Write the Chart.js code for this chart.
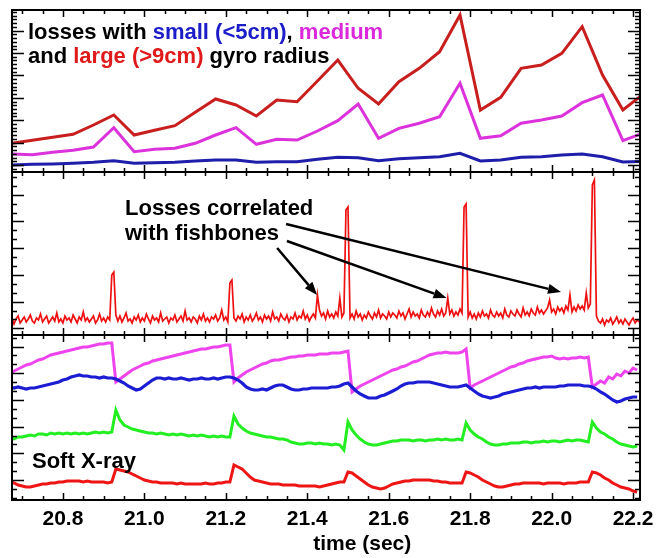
<!DOCTYPE html>
<html><head><meta charset="utf-8">
<script src="https://cdn.jsdelivr.net/npm/chart.js@4.4.1/dist/chart.umd.min.js"></script>
<style>
html,body{margin:0;padding:0;background:#fff;}
#wrap{position:relative;width:656px;height:558px;background:#fff;overflow:hidden;}
.p{position:absolute;left:0;width:656px;}
</style></head><body>
<div id="wrap">
<div class="p" style="top:0;height:180px"><canvas id="c1"></canvas></div>
<div class="p" style="top:164px;height:180px"><canvas id="c2"></canvas></div>
<div class="p" style="top:327px;height:231px"><canvas id="c3"></canvas></div>
</div>
<script>
// ---------- shared x axis ----------
const X_MIN = 20.675, X_MAX = 22.217;
const xTickValues = [20.8, 21.0, 21.2, 21.4, 21.6, 21.8, 22.0, 22.2];
const xTickLabels = ['20.8', '21.0', '21.2', '21.4', '21.6', '21.8', '22.0', '22.2'];
const xAxisTitle = 'time (sec)';

// ---------- panel 1: losses by gyro radius ----------
const time1 = [20.675,20.725,20.775,20.825,20.875,20.925,20.975,21.025,21.075,21.125,21.175,21.225,21.275,21.325,21.375,21.425,
               21.475,21.525,21.575,21.625,21.675,21.725,21.775,21.825,21.875,21.925,21.975,22.025,22.075,22.125,22.175,22.225];
const lossLarge  = [28.7,31.7,34.7,37.7,47,57,37,41.7,46.3,59.7,73,67,56,72,70.3,91,112,83.7,68,90.3,103.7,120.3,157,62,74.7,103.7,107,118.7,145.3,97,62,78];
const lossMedium = [18,17.3,19.7,21.7,25,44.3,20.3,22.7,23.7,28.7,37,44.3,27.7,32.7,32,41,51.3,68,33.7,43.7,48.7,55.3,88.7,33.7,36.3,48.7,52,56,69.3,77,31.3,39];
const lossSmall  = [7,7.7,8,8.7,9.7,11.3,8.7,9.3,9.7,11,12,12,9.7,10.3,10.3,12.7,14.7,14.3,11.3,13.3,14.3,15.3,18.7,11,12,14.7,15.3,17,18,15.3,10,10.7];

// ---------- panel 2: total losses (fishbone bursts) ----------
const T2_START = 20.67, T2_STEP = 0.005;
const lossTotal = [
 13,17,11,16,19,12,15,18,13,16, 20,14,12,17,15,21,13,16,19,12, 15,18,14,22,13,16,12,19,15,17,
 13,20,16,12,18,15,23,14,17,13, 16,19,12,15,21,14,17,13,18,15, 60,63,20,14,19,13,17,22,14,16,
 12,18,15,20,13,17,14,21,16,12, 19,15,17,13,22,14,16,18,12,17, 15,20,13,16,19,14,24,15,17,13,
 18,16,12,19,15,21,14,17,13,18, 16,20,14,17,25,15,18,13,52,55, 17,14,19,16,21,13,18,15,20,14,
 17,22,15,18,13,20,16,19,14,23, 16,18,14,21,17,15,20,13,18,16, 22,15,19,17,24,16,20,14,18,21,
 17,40,25,19,22,16,24,18,21,17, 23,19,37,18,22,125,128,17,21,16, 24,18,21,15,20,17,23,19,16,22,
 18,25,17,21,19,16,23,18,22,20, 17,24,19,22,16,21,26,18,23,19, 21,17,25,20,18,23,19,27,21,18,
 24,20,26,19,22,37,21,25,19,23, 20,26,22,128,131,18,23,17,21,16, 22,18,24,19,21,17,25,20,18,23,
 19,22,17,26,20,18,24,21,19,25, 21,18,27,20,23,19,26,22,20,28, 22,25,21,24,27,35,23,26,21,28,
 24,27,22,29,25,40,23,28,24,30, 26,29,25,42,27,31,150,155,19,14, 12,16,10,15,13,17,11,14,18,12,
 15,11,16,13,10,14,17,12,15,13];

// ---------- panel 3: soft X-ray channels ----------
const T3_START = 20.67, T3_STEP = 0.01;
const sxrMagenta = [
 127,129,131,133,135,136,138,140,141,143, 145,146,147,148,149,150,151,152,153,153, 154,155,156,156,157,157,118,121,124,127,
 130,132,134,136,137,139,140,141,142,143, 144,145,146,147,148,149,150,151,151,152, 153,153,154,155,155,118,122,125,128,130,
 132,134,136,137,139,140,140,141,142,143, 143,144,144,145,145,145,146,146,146,147, 147,147,148,149,108,111,114,116,118,120,
 122,124,126,128,130,131,133,134,136,138, 139,141,143,145,146,147,147,148,147,147, 147,148,151,112,115,117,119,121,123,125,
 127,129,131,133,134,136,137,139,140,141, 142,143,143,144,142,141,142,141,142,142, 143,142,143,113,116,119,117,123,121,126,
 124,129,127,132,130];
const sxrBlue = [
 113,112,113,112,111,112,112,113,114,115, 116,117,118,120,121,123,124,125,124,124, 123,123,122,123,122,122,121,119,117,114,
 112,110,111,114,117,120,122,122,121,122, 121,121,122,121,120,121,121,122,121,121, 122,121,122,123,123,122,120,117,113,111,
 110,110,111,110,112,114,115,115,113,111, 110,110,111,111,112,112,112,112,112,113, 113,114,116,117,113,109,106,104,102,102,
 102,104,105,107,109,111,114,116,117,117, 118,118,118,118,117,116,115,114,113,113, 113,114,115,112,109,106,104,103,102,103,
 104,106,107,108,109,110,111,112,112,113, 112,113,113,113,113,114,114,115,115,115, 115,114,114,113,111,108,106,103,100,98,
 99,101,102,103,103];
const sxrGreen = [
 62,61,63,63,64,65,64,66,66,65, 67,66,67,66,67,66,67,66,67,66, 67,68,67,68,67,68,90,80,75,73,
 71,70,69,68,67,67,66,67,66,65, 66,65,66,65,64,65,64,65,64,63, 64,63,64,63,63,84,76,72,69,67,
 66,65,64,63,63,62,61,61,60,58, 57,56,56,57,57,56,57,56,56,55, 56,55,50,78,70,65,61,58,56,55,
 55,56,57,58,59,59,60,60,60,59, 60,60,59,60,60,61,60,61,60,60, 61,60,77,70,66,63,61,58,56,55,
 55,56,56,57,57,57,58,58,57,58, 58,59,58,59,59,58,59,60,59,60, 60,59,58,78,72,68,66,63,61,58,
 56,55,54,53,54];
const sxrRed = [
 18,17,15,14,13,13,14,15,16,16, 17,17,18,18,19,19,19,19,18,19, 18,18,18,18,17,18,31,30,29,28,
 26,24,22,20,19,18,18,17,17,17, 17,16,17,16,16,16,16,16,17,16, 16,17,17,18,18,35,33,31,27,23,
 20,19,18,17,16,16,16,15,15,15, 15,14,14,14,14,14,13,14,15,16, 17,18,18,28,27,24,21,18,15,13,
 12,11,12,14,16,17,18,19,19,20, 20,20,20,20,19,19,18,18,17,17, 17,17,28,27,25,23,20,18,16,14,
 13,13,14,15,16,16,17,17,17,17, 17,16,17,17,17,17,16,17,17,17, 18,18,18,28,27,25,22,20,17,15,
 13,12,11,9,8];

// ---------- annotation arrows (panel 2, data coordinates) ----------
const arrowStartT = [21.326, 21.350, 21.348];
const arrowStartV = [87, 94, 111];
const arrowEndT   = [21.424, 21.742, 22.023];
const arrowEndV   = [40, 37, 43];

const FONT = '"Liberation Sans", Arial, Helvetica, sans-serif';

function pts(times, vals) { return vals.map((v, i) => ({ x: times[i], y: v })); }
function regTimes(start, step, n) { const a = []; for (let i = 0; i < n; i++) a.push(+(start + step * i).toFixed(4)); return a; }

function drawFrame(chart, yt) {
  const { ctx, chartArea: a, scales: { x, y } } = chart;
  ctx.save();
  ctx.strokeStyle = '#000';
  ctx.lineWidth = 1.5;
  ctx.beginPath();
  for (let i = -4; i <= 32; i++) {
    const v = 20.8 + i * 0.05;
    if (v < X_MIN - 1e-9 || v > X_MAX + 1e-9) continue;
    const px = Math.round(x.getPixelForValue(v)) + 0.5;
    const len = (i % 4 === 0) ? 7 : 4;
    ctx.moveTo(px, a.top); ctx.lineTo(px, a.top + len);
    ctx.moveTo(px, a.bottom); ctx.lineTo(px, a.bottom - len);
  }
  const step = yt.major / yt.nMinor;
  for (let j = -yt.nMinor * 3; j < 200; j++) {
    const v = yt.start + j * step;
    if (v > y.max) break;
    if (v <= y.min) continue;
    const py = Math.round(y.getPixelForValue(v)) + 0.5;
    const len = (j % yt.nMinor === 0) ? 12 : 5;
    ctx.moveTo(a.left, py); ctx.lineTo(a.left + len, py);
    ctx.moveTo(a.right, py); ctx.lineTo(a.right - len, py);
  }
  ctx.stroke();
  ctx.lineWidth = 2;
  ctx.strokeRect(a.left, a.top, a.right - a.left, a.bottom - a.top);
  ctx.restore();
}

function drawRuns(ctx, x, y, runs, font) {
  ctx.font = font;
  ctx.textBaseline = 'alphabetic';
  ctx.textAlign = 'left';
  let cx = x;
  for (const [s, c] of runs) { ctx.fillStyle = c; ctx.fillText(s, cx, y); cx += ctx.measureText(s).width; }
}

function baseOptions(ymin, ymax, pad) {
  return {
    responsive: true, maintainAspectRatio: false, animation: false, devicePixelRatio: 1,
    layout: { padding: pad },
    plugins: { legend: { display: false }, tooltip: { enabled: false } },
    elements: { point: { radius: 0 }, line: { tension: 0 } },
    scales: {
      x: { type: 'linear', min: X_MIN, max: X_MAX, display: false },
      y: { type: 'linear', min: ymin, max: ymax, display: false }
    }
  };
}

// Panel 1
new Chart(document.getElementById('c1'), {
  type: 'line',
  data: { datasets: [
    { data: pts(time1, lossLarge),  borderColor: '#c81e1e', borderWidth: 3 },
    { data: pts(time1, lossMedium), borderColor: '#dc32dc', borderWidth: 3 },
    { data: pts(time1, lossSmall),  borderColor: '#1e1eaa', borderWidth: 3 }
  ]},
  options: baseOptions(0, 162, { left: 12, right: 16, top: 10, bottom: 8 }),
  plugins: [{ id: 'p1', afterDraw(chart) {
    drawFrame(chart, { start: 7, major: 22.4, nMinor: 6 });
    const ctx = chart.ctx, a = chart.chartArea;
    const f = 'bold 22px ' + FONT;
    drawRuns(ctx, a.left + 16, a.top + 29, [['losses with ', '#000'], ['small (<5cm)', '#1c1cc8'], [', ', '#000'], ['medium', '#dc28dc']], f);
    drawRuns(ctx, a.left + 16, a.top + 53, [['and ', '#000'], ['large (>9cm)', '#e01a1a'], [' gyro radius', '#000']], f);
  }}]
});

// Panel 2
const time2 = regTimes(T2_START, T2_STEP, lossTotal.length);
new Chart(document.getElementById('c2'), {
  type: 'line',
  data: { datasets: [
    { data: pts(time2, lossTotal), borderColor: '#ee1111', borderWidth: 1.7 }
  ]},
  options: baseOptions(0, 163, { left: 12, right: 16, top: 8, bottom: 9 }),
  plugins: [{ id: 'p2', afterDraw(chart) {
    const ctx = chart.ctx, a = chart.chartArea, x = chart.scales.x, y = chart.scales.y;
    drawFrame(chart, { start: 6.7, major: 26.7, nMinor: 3 });
    const f = 'bold 22px ' + FONT;
    drawRuns(ctx, a.left + 113, a.top + 43, [['Losses correlated', '#000']], f);
    drawRuns(ctx, a.left + 113, a.top + 68, [['with fishbones', '#000']], f);
    ctx.save();
    ctx.strokeStyle = '#000'; ctx.fillStyle = '#000'; ctx.lineWidth = 2.5;
    for (let i = 0; i < arrowStartT.length; i++) {
      const x0 = x.getPixelForValue(arrowStartT[i]), y0 = y.getPixelForValue(arrowStartV[i]);
      const x1 = x.getPixelForValue(arrowEndT[i]), y1 = y.getPixelForValue(arrowEndV[i]);
      const ang = Math.atan2(y1 - y0, x1 - x0), L = 13, W = 5;
      const bx = x1 - L * Math.cos(ang), by = y1 - L * Math.sin(ang);
      ctx.beginPath(); ctx.moveTo(x0, y0); ctx.lineTo(bx, by); ctx.stroke();
      ctx.beginPath();
      ctx.moveTo(x1, y1);
      ctx.lineTo(bx + W * Math.sin(ang), by - W * Math.cos(ang));
      ctx.lineTo(bx - W * Math.sin(ang), by + W * Math.cos(ang));
      ctx.closePath(); ctx.fill();
    }
    ctx.restore();
  }}]
});

// Panel 3
const time3 = regTimes(T3_START, T3_STEP, sxrMagenta.length);
new Chart(document.getElementById('c3'), {
  type: 'line',
  data: { datasets: [
    { data: pts(time3, sxrBlue),    borderColor: '#1c1cd2', borderWidth: 3.2 },
    { data: pts(time3, sxrMagenta), borderColor: '#ee44ee', borderWidth: 3 },
    { data: pts(time3, sxrGreen),   borderColor: '#22ee22', borderWidth: 3 },
    { data: pts(time3, sxrRed),     borderColor: '#ee1515', borderWidth: 3 }
  ]},
  options: baseOptions(0, 165, { left: 12, right: 16, top: 8, bottom: 58 }),
  plugins: [{ id: 'p3', afterDraw(chart) {
    const ctx = chart.ctx, a = chart.chartArea, x = chart.scales.x;
    drawFrame(chart, { start: 20, major: 26.7, nMinor: 3 });
    drawRuns(ctx, a.left + 20, a.top + 133, [['Soft X-ray', '#000']], 'bold 22px ' + FONT);
    ctx.save();
    ctx.fillStyle = '#000';
    ctx.font = 'bold 21px ' + FONT;
    ctx.textAlign = 'center'; ctx.textBaseline = 'alphabetic';
    for (let i = 0; i < xTickValues.length; i++) {
      ctx.fillText(xTickLabels[i], x.getPixelForValue(xTickValues[i]), a.bottom + 25);
    }
    ctx.font = 'bold 21px ' + FONT;
    ctx.fillText(xAxisTitle, x.getPixelForValue(21.535), a.bottom + 50);
    ctx.restore();
  }}]
});
</script>
</body></html>
